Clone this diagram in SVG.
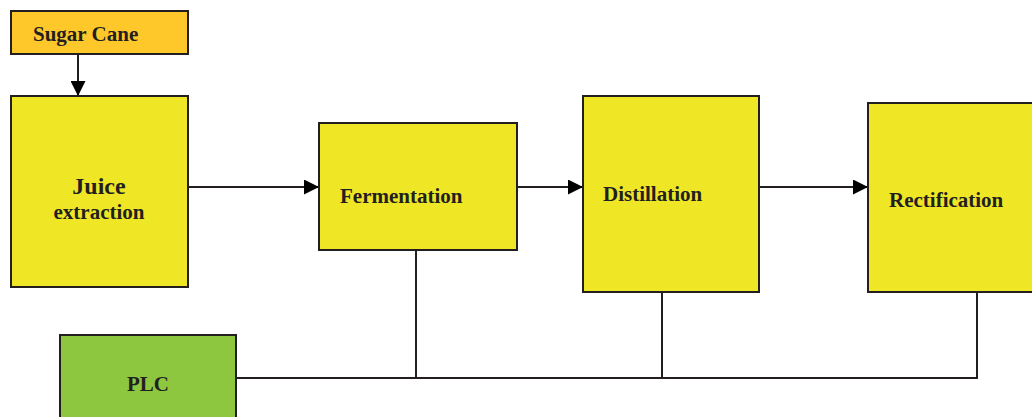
<svg xmlns="http://www.w3.org/2000/svg" width="1032" height="417" viewBox="0 0 1032 417">
<style>
.box{stroke:#231F20;stroke-width:2}
.y{fill:#EFE725}
.t{font-family:"Liberation Serif","Times New Roman",serif;font-weight:bold;fill:#231F20;font-size:21px}
.c{fill:none;stroke:#231F20;stroke-width:2}
</style>
<defs>
<marker id="ah" viewBox="0 0 10 10" refX="10" refY="5" markerWidth="8" markerHeight="7.5" markerUnits="strokeWidth" orient="auto">
<path d="M0,0 L10,5 L0,10 z" fill="#000"/>
</marker>
</defs>
<rect width="1032" height="417" fill="#fff"/>
<g id="connectors">
<line class="c" x1="78" y1="54" x2="78" y2="96" marker-end="url(#ah)"/>
<line class="c" x1="188" y1="187" x2="319" y2="187" marker-end="url(#ah)"/>
<line class="c" x1="517" y1="187" x2="583" y2="187" marker-end="url(#ah)"/>
<line class="c" x1="759" y1="187" x2="868" y2="187" marker-end="url(#ah)"/>
<polyline class="c" points="236,378 977,378 977,292"/>
<line class="c" x1="416" y1="250" x2="416" y2="378"/>
<line class="c" x1="662" y1="292" x2="662" y2="378"/>
</g>
<g id="sugar-cane">
<rect class="box" x="11" y="11" width="177" height="43" fill="#FEC82A"/>
<text class="t" x="33" y="41">Sugar Cane</text>
</g>
<g id="juice-extraction">
<rect class="box y" x="11" y="96" width="177" height="191"/>
<text class="t" x="99" y="194" text-anchor="middle" font-size="24" style="font-size:24px">Juice</text>
<text class="t" x="99" y="219" text-anchor="middle">extraction</text>
</g>
<g id="fermentation">
<rect class="box y" x="319" y="123" width="198" height="127"/>
<text class="t" x="340" y="203">Fermentation</text>
</g>
<g id="distillation">
<rect class="box y" x="583" y="96" width="176" height="196"/>
<text class="t" x="603" y="201">Distillation</text>
</g>
<g id="rectification">
<rect class="box y" x="868" y="103" width="170" height="189"/>
<text class="t" x="889" y="207">Rectification</text>
</g>
<g id="plc">
<rect class="box" x="60" y="335" width="176" height="90" fill="#8DC63F"/>
<text class="t" x="148" y="391" text-anchor="middle">PLC</text>
</g>
</svg>
